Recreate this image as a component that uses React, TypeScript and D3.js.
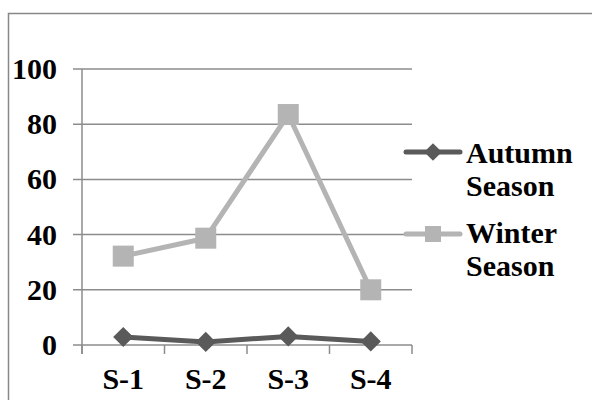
import React from 'react';
import * as d3 from 'd3';

const categories = ['S-1', 'S-2', 'S-3', 'S-4'];
const autumn = [2.9, 1.1, 3.1, 1.3];
const winter = [32.2, 38.7, 83.5, 20];
const yTicks = [0, 20, 40, 60, 80, 100];

const W = 592;
const H = 400;
const fs = 30;

const App = () => {
  const plot = { left: 82, right: 412, top: 69, bottom: 345 };

  const x = d3.scaleBand<string>().domain(categories).range([plot.left, plot.right]);
  const y = d3.scaleLinear().domain([0, 100]).range([plot.bottom, plot.top]);

  const cx = (c: string) => x(c)! + x.bandwidth() / 2;

  const line = d3
    .line<number>()
    .x((_, i) => cx(categories[i]))
    .y((d) => y(d));

  const diamond = d3.symbol(d3.symbolDiamond2, 260)()!;

  const autumnColor = '#5a5a5a';
  const winterColor = '#b4b4b4';
  const gridColor = '#8c8c8c';

  // x tick positions at band edges
  const xEdges = [...categories.map((c) => x(c)!), plot.right];

  const label = { fontFamily: 'Liberation Serif', fontWeight: 'bold', fontSize: fs, fill: '#000' };

  return (
    <svg width={W} height={H} style={{ position: 'absolute', left: 0, top: 0, background: '#fff' }}>
      {/* outer frame */}
      <rect x={8.5} y={13.5} width={W + 10} height={H + 10} fill="none" stroke="#888" strokeWidth={1.5} />

      {/* gridlines + y labels */}
      {yTicks.map((t) => (
        <g key={t}>
          <line x1={plot.left - 9} x2={plot.right} y1={y(t)} y2={y(t)} stroke={gridColor} strokeWidth={1.5} />
          <text x={57} y={y(t) + 10} textAnchor="end" {...label}>
            {t}
          </text>
        </g>
      ))}

      {/* y axis */}
      <line x1={plot.left} x2={plot.left} y1={plot.top} y2={plot.bottom + 9} stroke={gridColor} strokeWidth={1.5} />

      {/* x ticks */}
      {xEdges.map((e, i) => (
        <line key={i} x1={e} x2={e} y1={plot.bottom} y2={plot.bottom + 9} stroke={gridColor} strokeWidth={1.5} />
      ))}

      {/* x labels */}
      {categories.map((c) => (
        <text key={c} x={cx(c)} y={389} textAnchor="middle" {...label}>
          {c}
        </text>
      ))}

      {/* winter series */}
      <path d={line(winter)!} fill="none" stroke={winterColor} strokeWidth={5} strokeLinejoin="round" />
      {winter.map((v, i) => (
        <rect key={i} x={cx(categories[i]) - 10.5} y={y(v) - 10.5} width={21} height={21} fill={winterColor} />
      ))}

      {/* autumn series */}
      <path d={line(autumn)!} fill="none" stroke={autumnColor} strokeWidth={5} strokeLinejoin="round" />
      {autumn.map((v, i) => (
        <path key={i} d={diamond} transform={`translate(${cx(categories[i])},${y(v)})`} fill={autumnColor} />
      ))}

      {/* legend */}
      <g>
        <line x1={406} x2={460} y1={152} y2={152} stroke={autumnColor} strokeWidth={5} strokeLinecap="round" />
        <path d={d3.symbol(d3.symbolDiamond2, 200)()!} transform="translate(433,152)" fill={autumnColor} />
        <text x={466} y={163} {...label}>
          Autumn
        </text>
        <text x={466} y={196} {...label}>
          Season
        </text>

        <line x1={406} x2={460} y1={234} y2={234} stroke={winterColor} strokeWidth={5} strokeLinecap="round" />
        <rect x={425} y={226} width={16} height={16} fill={winterColor} />
        <text x={466} y={243} {...label}>
          Winter
        </text>
        <text x={466} y={276} {...label}>
          Season
        </text>
      </g>
    </svg>
  );
};

export default App;
